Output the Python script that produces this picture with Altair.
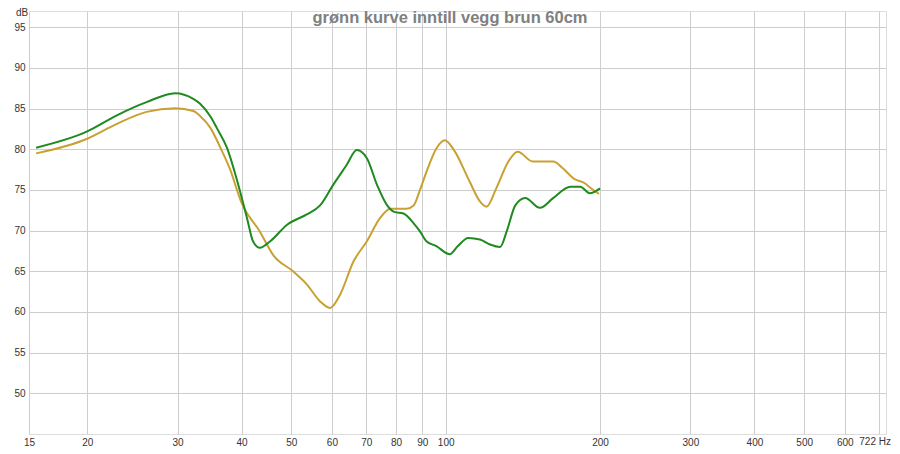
import altair as alt
import pandas as pd

title_text = "grønn kurve inntill vegg brun 60cm"

green_hz = [15.9, 20, 22.8, 26.1, 29.7, 32.2, 33.2, 34.8, 35.8, 37.5, 39.1, 41.0, 42.1, 43.4, 45.5, 49.0,
            53.6, 56.9, 60.3, 64.0, 67.1, 70.2, 73.5, 76.9, 79.4, 82.7, 86.6, 89.1, 91.7, 95.9,
            101.8, 105.6, 110.6, 116.6, 122, 127.7, 131.5, 136.7, 142.9, 152.7, 162, 175, 183, 191, 200]
green_db = [80.2, 82.2, 84.15, 85.8, 86.9, 86.2, 85.6, 84.0, 82.6, 80.1, 76.4, 71.5, 68.7, 67.9, 68.7, 70.7,
            72.0, 73.1, 75.6, 78.0, 79.9, 78.9, 75.6, 73.1, 72.3, 72.1, 70.9, 69.9, 68.7, 68.1,
            67.1, 68.1, 69.1, 68.9, 68.3, 68.0, 69.9, 73.1, 74.0, 72.8, 74.0, 75.4, 75.4, 74.6, 75.2]

gold_hz = [15.9, 20, 22.8, 26.1, 29.7, 32.2, 33.2, 34.8, 36.3, 38.0, 40, 43.4, 46.1, 50.4, 53.6, 56.9, 59.5,
           62.2, 66.1, 70.2, 74.4, 78, 83.9, 86.6, 89.1, 91.7, 95.9, 99.6, 103.8, 111.4, 116.6,
           120.1, 125.5, 132.5, 138.2, 147.8, 162, 169.6, 177.7, 187, 192, 199]
gold_db = [79.5, 81.3, 83.1, 84.6, 85.05, 84.7, 84.1, 82.6, 80.3, 77.5, 73.4, 69.9, 67.0, 65.0, 63.4, 61.3, 60.5,
           62.1, 66.2, 68.7, 71.5, 72.7, 72.7, 73.1, 75.0, 77.2, 80.1, 81.1, 79.9, 76.0, 73.6,
           72.95, 75.2, 78.5, 79.7, 78.5, 78.5, 77.6, 76.4, 75.8, 75.2, 74.5]

y_ticks = [50, 55, 60, 65, 70, 75, 80, 85, 90, 95]
x_ticks = [15.4, 20, 30, 40, 50, 60, 70, 80, 90, 100, 200, 300, 400, 500, 600, 700]
end_label = "722 Hz"

series_names = ["brun", "grønn"]
series_colors = ["#c9a132", "#1f8a1f"]

df = pd.concat([
    pd.DataFrame({"hz": gold_hz, "db": gold_db, "series": "brun"}),
    pd.DataFrame({"hz": green_hz, "db": green_db, "series": "grønn"}),
], ignore_index=True)

label_font = "Liberation Sans"
W, H = 857, 423

lines = alt.Chart(df).mark_line(strokeWidth=2, interpolate="monotone", clip=True).encode(
    x=alt.X("hz:Q",
            scale=alt.Scale(type="log", domain=[15.4, 722], nice=False),
            axis=alt.Axis(values=x_ticks, title=None, ticks=False, domain=False,
                          gridColor="#cdcdcd", gridWidth=1,
                          labelFlush=False, labelOverlap=False, labelPadding=3,
                          labelFont=label_font, labelFontSize=10, labelColor="#333333",
                          labelExpr="datum.value < 16 ? '15' : datum.value > 650 ? '' : format(datum.value, 'd')")),
    y=alt.Y("db:Q",
            scale=alt.Scale(domain=[45, 97], nice=False, zero=False),
            axis=alt.Axis(values=y_ticks, title=None, ticks=False, domain=False,
                          gridColor="#cdcdcd", gridWidth=1, labelPadding=4,
                          labelFont=label_font, labelFontSize=10, labelColor="#333333")),
    color=alt.Color("series:N", scale=alt.Scale(domain=series_names, range=series_colors), legend=None),
    detail="series:N",
)

title_layer = alt.Chart(pd.DataFrame({"t": [title_text]})).mark_text(
    font=label_font, fontSize=16.5, fontWeight="bold", color="#808080",
    align="center", baseline="alphabetic"
).encode(text="t:N", x=alt.value(421), y=alt.value(12))

db_layer = alt.Chart(pd.DataFrame({"t": ["dB"]})).mark_text(
    font=label_font, fontSize=10, color="#333333", align="center", baseline="top"
).encode(text="t:N", x=alt.value(-7), y=alt.value(-3))

end_layer = alt.Chart(pd.DataFrame({"t": [end_label]})).mark_text(
    font=label_font, fontSize=10, color="#333333", align="right", baseline="top"
).encode(text="t:N", x=alt.value(W + 5), y=alt.value(H + 3))

chart = alt.layer(lines, title_layer, db_layer, end_layer).properties(
    width=W, height=H,
    autosize=alt.AutoSizeParams(type="none"),
    padding={"left": 21, "top": 3, "right": 6, "bottom": 12},
).configure_view(stroke="#c2c2c2", strokeWidth=3).configure(background="white")

chart.save("out.html", embed_options={"renderer": "svg", "actions": False})
